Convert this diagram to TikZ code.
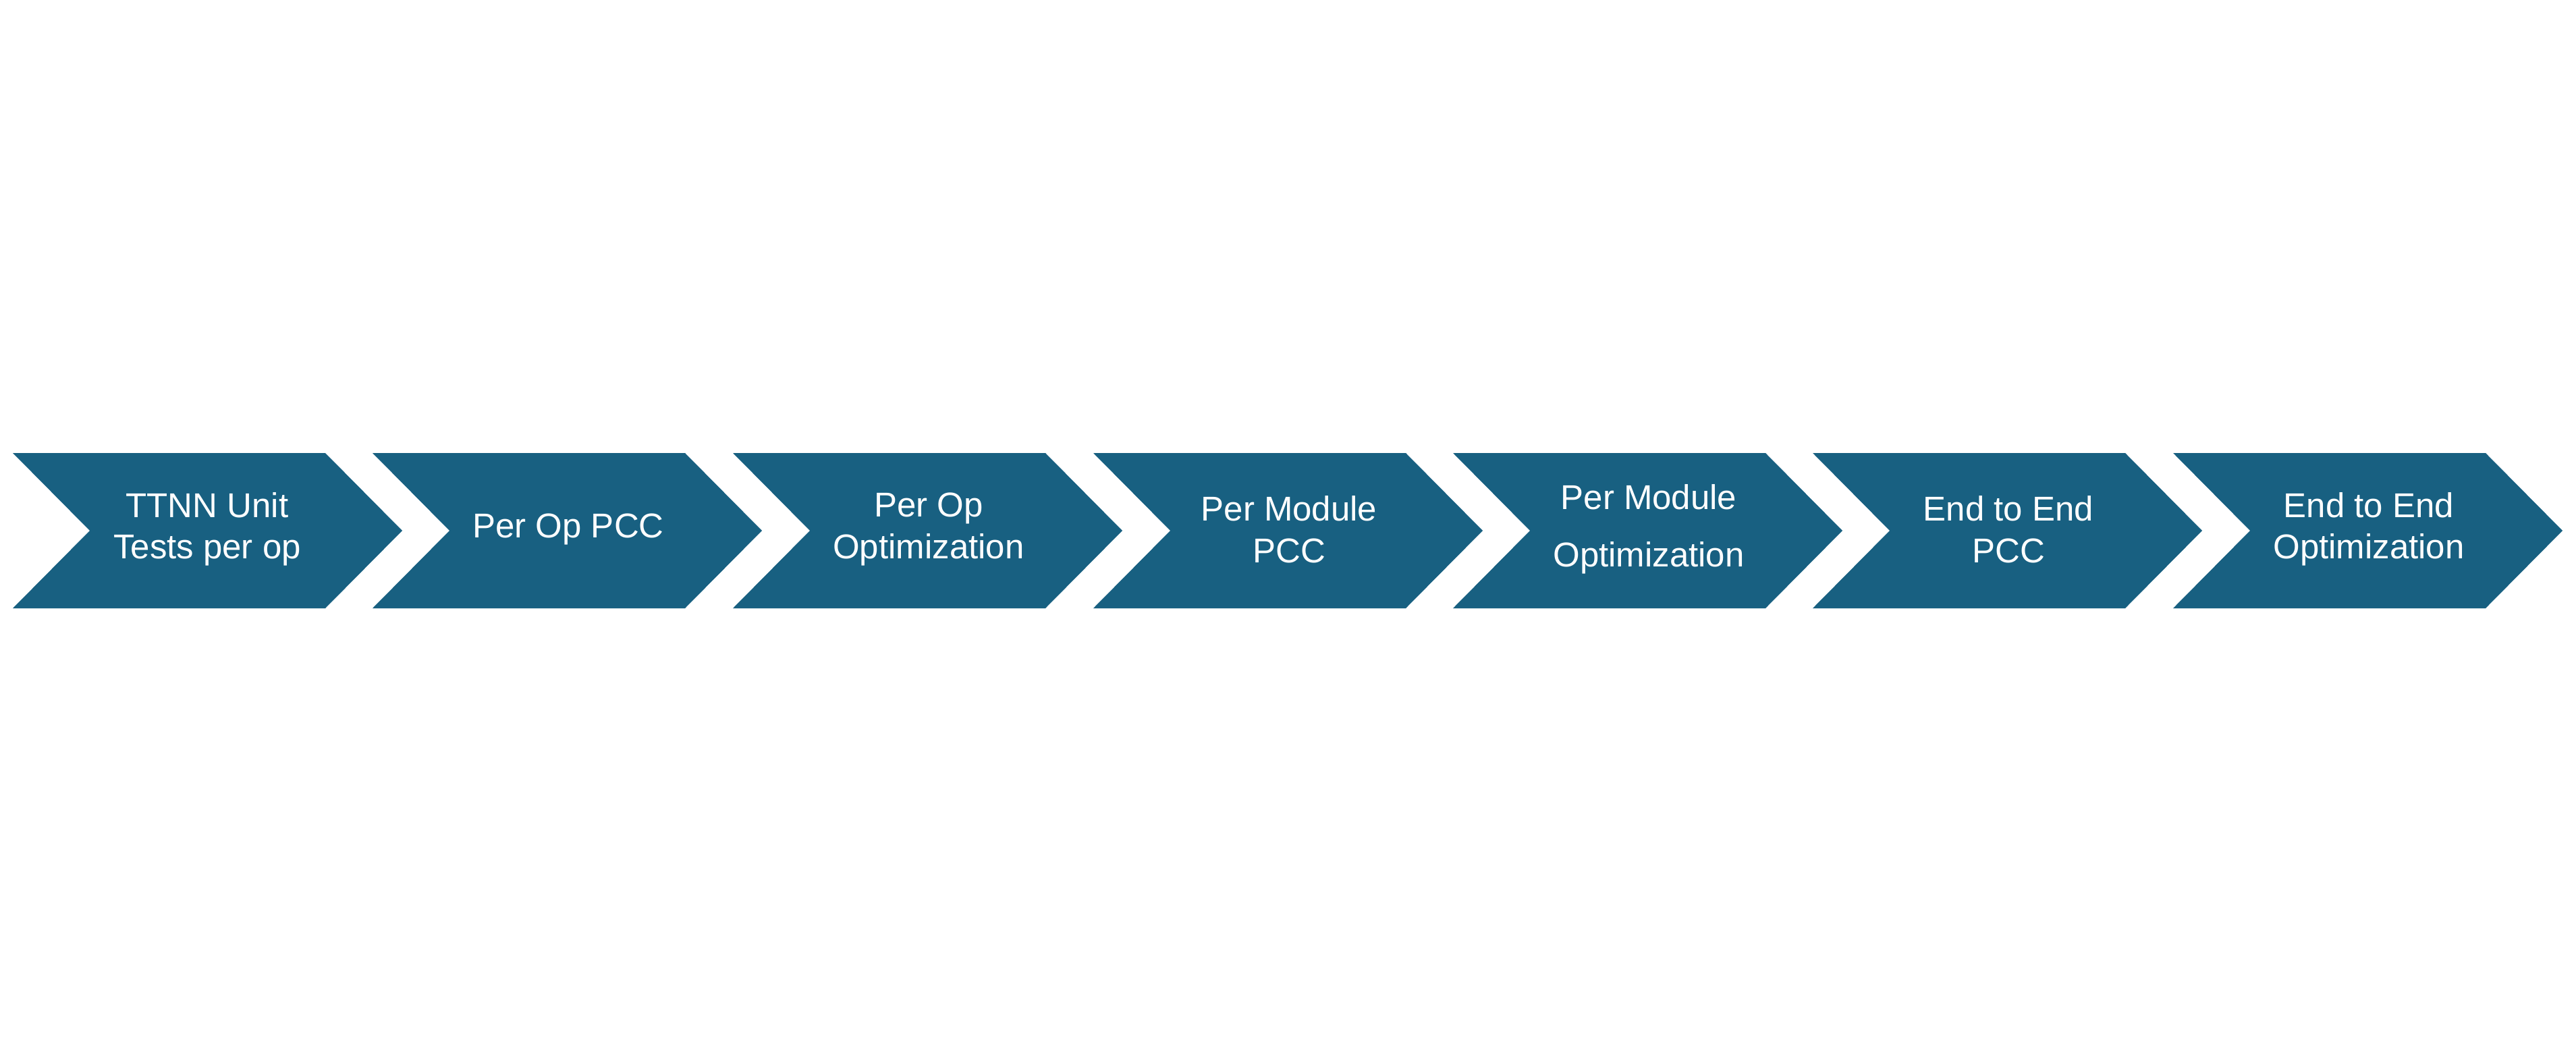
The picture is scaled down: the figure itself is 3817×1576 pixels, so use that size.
\documentclass[tikz,border=0pt]{standalone}
\usepackage{fontspec}
\setsansfont{Liberation Sans}
\usepackage{tikz}
\usepackage{xcolor}
\definecolor{chevblue}{RGB}{24,96,129}

\begin{document}
\begin{tikzpicture}[x = .01cm, y = -.01cm,
  chev/.style = {fill = chevblue},
  lbl/.style = {text = white, align = center, inner sep = 0pt, font = \sffamily\fontsize{14.5}{17.5}\selectfont}]
  \useasboundingbox (0, 0) rectangle (3817, 1576);
  \fill [chev] (19, 671) -- (482, 671) -- (596, 786) -- (482, 901) -- (19, 901) -- (133, 786) -- cycle;
  \fill [chev] (552, 671) -- (1015, 671) -- (1129, 786) -- (1015, 901) -- (552, 901) -- (666, 786) -- cycle;
  \fill [chev] (1086, 671) -- (1549, 671) -- (1663, 786) -- (1549, 901) -- (1086, 901) -- (1200, 786) -- cycle;
  \fill [chev] (1620, 671) -- (2083, 671) -- (2197, 786) -- (2083, 901) -- (1620, 901) -- (1734, 786) -- cycle;
  \fill [chev] (2153, 671) -- (2616, 671) -- (2730, 786) -- (2616, 901) -- (2153, 901) -- (2267, 786) -- cycle;
  \fill [chev] (2686, 671) -- (3149, 671) -- (3263, 786) -- (3149, 901) -- (2686, 901) -- (2800, 786) -- cycle;
  \fill [chev] (3220, 671) -- (3683, 671) -- (3797, 786) -- (3683, 901) -- (3220, 901) -- (3334, 786) -- cycle;
  \node [lbl] (unit) at (307, 784) {TTNN Unit\\Tests per op};
  \node [lbl] (oppcc) at (842, 784) {Per Op PCC};
  \node [lbl] (opopt) at (1376, 784) {Per Op\\Optimization};
  \node [lbl] (modpcc) at (1910, 784) {Per Module\\PCC};
  \node [lbl] (modopt) at (2443, 784) {Per Module\\[.24cm]Optimization};
  \node [lbl] (e2epcc) at (2976, 784) {End to End\\PCC};
  \node [lbl] (e2eopt) at (3510, 784) {End to End\\Optimization};
\end{tikzpicture}
\end{document}
